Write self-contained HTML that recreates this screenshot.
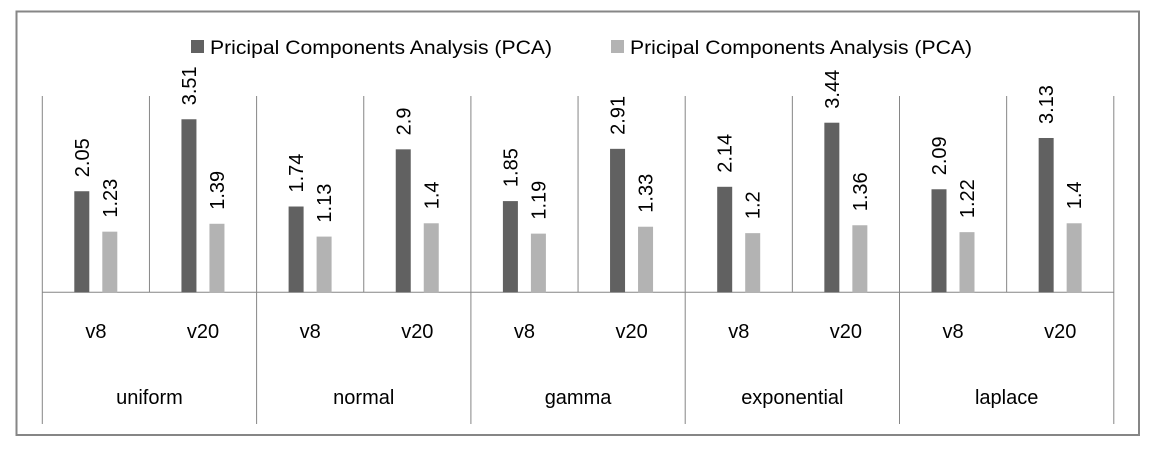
<!DOCTYPE html>
<html><head><meta charset="utf-8"><style>
body{margin:0;background:#fff;width:1157px;height:450px;overflow:hidden}
svg{font-family:"Liberation Sans",sans-serif}
</style></head><body>
<svg id="chart" width="1157" height="450" xmlns="http://www.w3.org/2000/svg">
<rect x="16.5" y="11.5" width="1122.5" height="423.5" fill="#fff" stroke="#868686" stroke-width="2"/>
<g>
<rect x="191" y="40" width="13" height="13" fill="#616161"/>
<text x="210" y="54" font-size="19" textLength="342" lengthAdjust="spacingAndGlyphs" fill="#000">Pricipal Components Analysis (PCA)</text>
<rect x="611" y="40" width="13" height="13" fill="#b3b3b3"/>
<text x="630" y="54" font-size="19" textLength="342" lengthAdjust="spacingAndGlyphs" fill="#000">Pricipal Components Analysis (PCA)</text>
</g>
<g id="plot"></g>
</svg>
<script>
const categories = ["uniform","normal","gamma","exponential","laplace"];
const subLabels = ["v8","v20"];
const seriesDark = [2.05,3.51,1.74,2.9,1.85,2.91,2.14,3.44,2.09,3.13];
const seriesLight = [1.23,1.39,1.13,1.4,1.19,1.33,1.2,1.36,1.22,1.4];
const NS="http://www.w3.org/2000/svg";
const plot=document.getElementById('plot');
const x0=42.3, groupW=214.3, subW=groupW/2, baseY=292.3, pxPerUnit=49.3;
const xSub=i=>x0+i*subW;
const yv=v=>baseY-v*pxPerUnit;
function mk(tag,attrs){const e=document.createElementNS(NS,tag);for(const k in attrs)e.setAttribute(k,attrs[k]);plot.appendChild(e);return e;}
for(let i=0;i<=subLabels.length*categories.length;i++){
  const major=i%2===0;
  const l=mk('line',{x1:xSub(i),x2:xSub(i),y1:96,y2:major?424:baseY,stroke:'#868686','stroke-width':1});
  
  
}
const ax=mk('line',{x1:x0,x2:xSub(10),y1:baseY,y2:baseY,stroke:'#868686','stroke-width':1});


function label(v,cx,topY){
  const t=mk('text',{transform:`translate(${cx+7},${topY-14}) rotate(-90)`,'font-size':20,fill:'#000'});
  t.textContent=String(v);
  
  
}
for(let i=0;i<seriesDark.length;i++){
  const sx=xSub(i);
  const d=seriesDark[i], l=seriesLight[i];
  const b1=mk('rect',{x:sx+32,y:yv(d),width:15,height:baseY-yv(d),fill:'#616161'});
  
  
  const b2=mk('rect',{x:sx+60,y:yv(l),width:15,height:baseY-yv(l),fill:'#b3b3b3'});
  
  
  label(d,sx+39.5,yv(d));
  label(l,sx+67.5,yv(l));
  const st=mk('text',{x:sx+subW/2,y:338,'font-size':20,'text-anchor':'middle',fill:'#000'});
  st.textContent=subLabels[i%2];
  
  
}
categories.forEach((c,j)=>{
  const t=mk('text',{x:x0+j*groupW+groupW/2,y:404,'font-size':20,'text-anchor':'middle',fill:'#000'});
  t.textContent=c;
  
  
});
</script>
</body></html>
